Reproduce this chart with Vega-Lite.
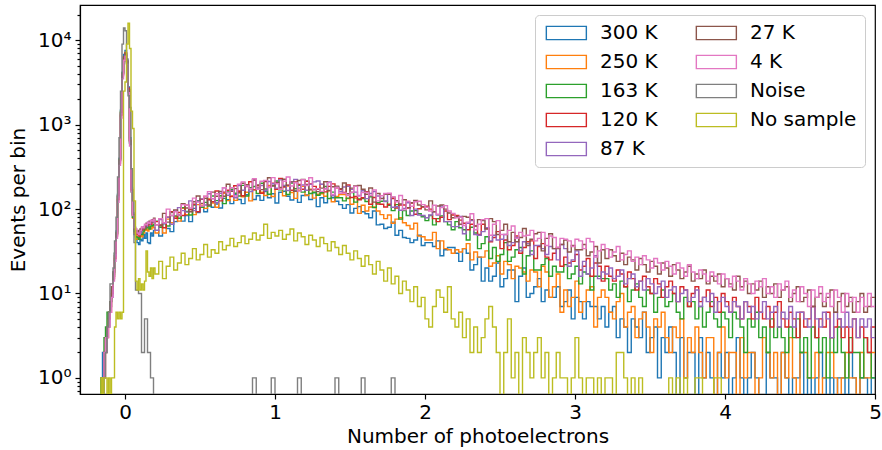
{
"$schema": "https://vega.github.io/schema/vega-lite/v6.json",
"width": 795, "height": 389,
"autosize": "none",
"padding": {"left": 80, "top": 5, "right": 7, "bottom": 56},
"background": "white",
"config": {
  "font": "DejaVu Sans",
  "view": {"stroke": "black", "strokeWidth": 1.2},
  "axis": {"labelFont": "DejaVu Sans", "titleFont": "DejaVu Sans", "labelFontSize": 20, "titleFontSize": 20, "titleFontWeight": "normal", "labelColor": "black", "titleColor": "black", "domainColor": "black", "tickColor": "black", "grid": false, "domainWidth": 1.2, "tickWidth": 1.2}
},
"data": {"values": [
{"x":-0.2,"a":0.1,"b":0.1,"c":0.1,"d":0.1,"e":0.1,"f":0.1,"g":0.1,"h":0.1,"i":0.1},
{"x":-0.19,"a":0.1,"b":0.1,"c":0.1,"d":0.1,"e":0.1,"f":0.1,"g":0.1,"h":0.1,"i":0.1},
{"x":-0.18,"a":0.1,"b":0.1,"c":0.1,"d":0.1,"e":0.1,"f":0.1,"g":0.1,"h":0.1,"i":0.1},
{"x":-0.17,"a":0.1,"b":0.1,"c":0.1,"d":0.1,"e":0.1,"f":0.1,"g":0.1,"h":0.1,"i":0.1},
{"x":-0.16,"a":1,"b":0.1,"c":1,"d":0.1,"e":0.1,"f":0.1,"g":0.1,"h":0.1,"i":1},
{"x":-0.15,"a":2,"b":1,"c":1,"d":1,"e":0.1,"f":1,"g":1,"h":0.1,"i":0.1},
{"x":-0.14,"a":2,"b":2,"c":3,"d":1,"e":2,"f":2,"g":2,"h":1,"i":1},
{"x":-0.13,"a":3,"b":2,"c":4,"d":3,"e":2,"f":3,"g":3,"h":2,"i":1},
{"x":-0.12,"a":4,"b":4,"c":6,"d":3,"e":4,"f":4,"g":3,"h":4,"i":0.1},
{"x":-0.11,"a":5,"b":6,"c":5,"d":5,"e":4,"f":6,"g":4,"h":6,"i":1},
{"x":-0.1,"a":8,"b":7,"c":8,"d":6,"e":7,"f":8,"g":6,"h":13,"i":0.1},
{"x":-0.09,"a":12,"b":10,"c":11,"d":10,"e":9,"f":12,"g":9,"h":13,"i":1},
{"x":-0.08,"a":18,"b":16,"c":17,"d":15,"e":16,"f":18,"g":14,"h":20,"i":1},
{"x":-0.07,"a":30,"b":28,"c":30,"d":26,"e":28,"f":30,"g":24,"h":42,"i":4},
{"x":-0.06,"a":55,"b":50,"c":52,"d":48,"e":50,"f":52,"g":45,"h":80,"i":6},
{"x":-0.05,"a":150,"b":140,"c":145,"d":130,"e":140,"f":145,"g":120,"h":240,"i":5},
{"x":-0.04,"a":400,"b":380,"c":390,"d":350,"e":370,"f":380,"g":330,"h":700,"i":6},
{"x":-0.03,"a":1500,"b":1400,"c":1450,"d":1300,"e":1350,"f":1400,"g":1200,"h":2500,"i":5},
{"x":-0.02,"a":4200,"b":4000,"c":4100,"d":3800,"e":3900,"f":4000,"g":3500,"h":9000,"i":6},
{"x":-0.01,"a":6800,"b":6400,"c":6200,"d":6000,"e":6200,"f":6400,"g":5800,"h":14000,"i":2500},
{"x":0,"a":7600,"b":7200,"c":6600,"d":7000,"e":6800,"f":7100,"g":6500,"h":13000,"i":3200},
{"x":0.01,"a":5800,"b":5600,"c":5300,"d":5600,"e":5400,"f":5600,"g":5200,"h":6000,"i":9000},
{"x":0.02,"a":2800,"b":2600,"c":2500,"d":2700,"e":2600,"f":2600,"g":2400,"h":2200,"i":16000},
{"x":0.03,"a":700,"b":650,"c":600,"d":650,"e":620,"f":640,"g":560,"h":1600,"i":8000},
{"x":0.04,"a":180,"b":170,"c":160,"d":170,"e":175,"f":170,"g":160,"h":300,"i":1450},
{"x":0.05,"a":80,"b":78,"c":80,"d":85,"e":90,"f":86,"g":84,"h":125,"i":900},
{"x":0.06,"a":50,"b":52,"c":54,"d":58,"e":62,"f":60,"g":60,"h":40,"i":125},
{"x":0.07,"a":44,"b":48,"c":47,"d":52,"e":56,"f":55,"g":58,"h":11,"i":14},
{"x":0.08,"a":40,"b":44,"c":46,"d":50,"e":54,"f":52,"g":52,"h":11,"i":11},
{"x":0.09,"a":38,"b":46,"c":44,"d":48,"e":50,"f":56,"g":50,"h":10,"i":15},
{"x":0.1,"a":44,"b":50,"c":52,"d":55,"e":52,"f":58,"g":56,"h":10,"i":11},
{"x":0.11,"a":42,"b":47,"c":50,"d":60,"e":58,"f":56,"g":62,"h":2,"i":13},
{"x":0.12,"a":50,"b":52,"c":55,"d":58,"e":60,"f":62,"g":60,"h":2,"i":11},
{"x":0.13,"a":45,"b":56,"c":58,"d":62,"e":64,"f":60,"g":66,"h":5,"i":14},
{"x":0.14,"a":52,"b":58,"c":60,"d":65,"e":62,"f":68,"g":65,"h":5,"i":32},
{"x":0.15,"a":40,"b":55,"c":62,"d":64,"e":70,"f":66,"g":70,"h":2,"i":18},
{"x":0.16,"a":39,"b":60,"c":58,"d":68,"e":66,"f":72,"g":68,"h":2,"i":16},
{"x":0.17,"a":52,"b":58,"c":63,"d":66,"e":72,"f":70,"g":74,"h":1,"i":20},
{"x":0.18,"a":48,"b":62,"c":64,"d":72,"e":70,"f":75,"g":72,"h":1,"i":15},
{"x":0.19,"a":56,"b":60,"c":66,"d":70,"e":74,"f":78,"g":76,"h":0.1,"i":20},
{"x":0.2,"a":56,"b":52,"c":72,"d":71,"e":56,"f":65,"g":65,"h":0.1,"i":17},
{"x":0.225,"a":48,"b":61,"c":61,"d":65,"e":75,"f":64,"g":77,"h":0.1,"i":24},
{"x":0.25,"a":67,"b":52,"c":68,"d":60,"e":68,"f":89,"g":69,"h":0.1,"i":15},
{"x":0.275,"a":59,"b":76,"c":63,"d":80,"e":80,"f":70,"g":100,"h":0.1,"i":21},
{"x":0.3,"a":54,"b":69,"c":84,"d":93,"e":66,"f":91,"g":84,"h":0.1,"i":27},
{"x":0.325,"a":71,"b":81,"c":83,"d":78,"e":95,"f":98,"g":93,"h":0.1,"i":19},
{"x":0.35,"a":86,"b":72,"c":78,"d":91,"e":104,"f":84,"g":85,"h":0.1,"i":23},
{"x":0.375,"a":72,"b":102,"c":104,"d":84,"e":96,"f":116,"g":113,"h":0.1,"i":30},
{"x":0.4,"a":84,"b":86,"c":94,"d":111,"e":92,"f":103,"g":111,"h":0.1,"i":22},
{"x":0.425,"a":71,"b":94,"c":85,"d":99,"e":125,"f":93,"g":103,"h":0.1,"i":26},
{"x":0.45,"a":102,"b":86,"c":112,"d":114,"e":96,"f":122,"g":135,"h":0.1,"i":34},
{"x":0.475,"a":91,"b":113,"c":126,"d":93,"e":124,"f":143,"g":121,"h":0.1,"i":25},
{"x":0.5,"a":106,"b":111,"c":105,"d":131,"e":132,"f":117,"g":109,"h":0.1,"i":29},
{"x":0.525,"a":93,"b":102,"c":120,"d":141,"e":112,"f":134,"g":142,"h":0.1,"i":38},
{"x":0.55,"a":130,"b":132,"c":109,"d":129,"e":152,"f":112,"g":161,"h":0.1,"i":27},
{"x":0.575,"a":105,"b":118,"c":143,"d":122,"e":133,"f":159,"g":132,"h":0.1,"i":33},
{"x":0.6,"a":115,"b":105,"c":126,"d":164,"e":119,"f":142,"g":152,"h":0.1,"i":30},
{"x":0.625,"a":103,"b":137,"c":144,"d":125,"e":154,"f":162,"g":136,"h":0.1,"i":41},
{"x":0.65,"a":134,"b":154,"c":116,"d":159,"e":179,"f":142,"g":179,"h":0.1,"i":33},
{"x":0.675,"a":129,"b":126,"c":160,"d":167,"e":146,"f":197,"g":156,"h":0.1,"i":37},
{"x":0.7,"a":116,"b":143,"c":172,"d":141,"e":165,"f":162,"g":179,"h":0.1,"i":45},
{"x":0.725,"a":149,"b":127,"c":154,"d":189,"e":136,"f":175,"g":143,"h":0.1,"i":36},
{"x":0.75,"a":130,"b":163,"c":143,"d":163,"e":190,"f":156,"g":197,"h":0.1,"i":40},
{"x":0.775,"a":116,"b":140,"c":191,"d":144,"e":167,"f":202,"g":210,"h":0.1,"i":48},
{"x":0.8,"a":148,"b":158,"c":143,"d":185,"e":189,"f":194,"g":188,"h":0.1,"i":39},
{"x":0.825,"a":162,"b":125,"c":179,"d":211,"e":161,"f":174,"g":174,"h":0.1,"i":44},
{"x":0.85,"a":130,"b":170,"c":185,"d":169,"e":221,"f":221,"g":229,"h":1,"i":52},
{"x":0.875,"a":144,"b":179,"c":153,"d":189,"e":178,"f":193,"g":171,"h":0.1,"i":43},
{"x":0.9,"a":127,"b":158,"c":202,"d":154,"e":190,"f":170,"g":214,"h":0.1,"i":49},
{"x":0.925,"a":161,"b":145,"c":173,"d":212,"e":166,"f":215,"g":219,"h":0.1,"i":66},
{"x":0.95,"a":136,"b":191,"c":150,"d":182,"e":212,"f":235,"g":180,"h":0.1,"i":45},
{"x":0.975,"a":152,"b":141,"c":190,"d":202,"e":200,"f":188,"g":236,"h":1,"i":53},
{"x":1.0,"a":118,"b":175,"c":215,"d":171,"e":177,"f":207,"g":200,"h":0.1,"i":48},
{"x":1.025,"a":158,"b":177,"c":169,"d":230,"e":222,"f":180,"g":172,"h":0.1,"i":56},
{"x":1.05,"a":163,"b":144,"c":186,"d":182,"e":191,"f":226,"g":214,"h":0.1,"i":44},
{"x":1.075,"a":142,"b":187,"c":149,"d":192,"e":166,"f":191,"g":240,"h":0.1,"i":50},
{"x":1.1,"a":128,"b":157,"c":204,"d":167,"e":209,"f":210,"g":188,"h":0.1,"i":58},
{"x":1.125,"a":164,"b":134,"c":174,"d":210,"e":225,"f":163,"g":205,"h":0.1,"i":42},
{"x":1.15,"a":120,"b":167,"c":191,"d":196,"e":177,"f":218,"g":164,"h":1,"i":52},
{"x":1.175,"a":145,"b":186,"c":159,"d":172,"e":193,"f":225,"g":223,"h":0.1,"i":47},
{"x":1.2,"a":147,"b":145,"c":214,"d":214,"e":167,"f":196,"g":190,"h":0.1,"i":38},
{"x":1.225,"a":130,"b":172,"c":153,"d":199,"e":196,"f":169,"g":235,"h":0.1,"i":49},
{"x":1.25,"a":156,"b":135,"c":158,"d":186,"e":210,"f":171,"g":169,"h":0.1,"i":43},
{"x":1.275,"a":107,"b":150,"c":146,"d":171,"e":215,"f":161,"g":175,"h":0.1,"i":36},
{"x":1.3,"a":136,"b":152,"c":156,"d":196,"e":197,"f":177,"g":162,"h":0.1,"i":46},
{"x":1.325,"a":119,"b":142,"c":185,"d":160,"e":175,"f":211,"g":173,"h":0.1,"i":39},
{"x":1.35,"a":134,"b":165,"c":133,"d":186,"e":209,"f":166,"g":206,"h":0.1,"i":32},
{"x":1.375,"a":136,"b":122,"c":159,"d":199,"e":144,"f":184,"g":149,"h":0.1,"i":41},
{"x":1.4,"a":124,"b":141,"c":136,"d":179,"e":182,"f":187,"g":180,"h":1,"i":35},
{"x":1.425,"a":113,"b":149,"c":136,"d":170,"e":161,"f":175,"g":154,"h":0.1,"i":29},
{"x":1.45,"a":102,"b":149,"c":125,"d":157,"e":183,"f":204,"g":155,"h":0.1,"i":37},
{"x":1.475,"a":113,"b":133,"c":135,"d":193,"e":186,"f":152,"g":145,"h":0.1,"i":30},
{"x":1.5,"a":90,"b":114,"c":157,"d":137,"e":171,"f":177,"g":158,"h":0.1,"i":25},
{"x":1.525,"a":102,"b":135,"c":121,"d":141,"e":159,"f":188,"g":186,"h":0.1,"i":32},
{"x":1.55,"a":107,"b":89,"c":132,"d":129,"e":145,"f":190,"g":143,"h":0.1,"i":26},
{"x":1.575,"a":93,"b":111,"c":133,"d":136,"e":165,"f":172,"g":157,"h":1,"i":21},
{"x":1.6,"a":88,"b":95,"c":123,"d":161,"e":133,"f":150,"g":157,"h":0.1,"i":28},
{"x":1.625,"a":79,"b":106,"c":140,"d":114,"e":153,"f":178,"g":145,"h":0.1,"i":22},
{"x":1.65,"a":95,"b":106,"c":104,"d":137,"e":161,"f":121,"g":168,"h":0.1,"i":17},
{"x":1.675,"a":65,"b":95,"c":119,"d":115,"e":143,"f":153,"g":125,"h":0.1,"i":24},
{"x":1.7,"a":66,"b":86,"c":124,"d":114,"e":135,"f":133,"g":144,"h":0.1,"i":19},
{"x":1.725,"a":59,"b":77,"c":124,"d":106,"e":123,"f":150,"g":153,"h":0.1,"i":14},
{"x":1.75,"a":61,"b":85,"c":111,"d":114,"e":150,"f":150,"g":154,"h":0.1,"i":20},
{"x":1.775,"a":70,"b":68,"c":96,"d":133,"e":105,"f":138,"g":139,"h":1,"i":13},
{"x":1.8,"a":49,"b":76,"c":113,"d":103,"e":107,"f":126,"g":122,"h":0.1,"i":16},
{"x":1.825,"a":56,"b":79,"c":76,"d":112,"e":97,"f":115,"g":145,"h":0.1,"i":10},
{"x":1.85,"a":46,"b":69,"c":96,"d":112,"e":102,"f":129,"g":98,"h":0.1,"i":14},
{"x":1.875,"a":45,"b":64,"c":84,"d":103,"e":119,"f":104,"g":124,"h":0.1,"i":11},
{"x":1.9,"a":40,"b":58,"c":95,"d":118,"e":84,"f":119,"g":108,"h":0.1,"i":8},
{"x":1.925,"a":43,"b":68,"c":96,"d":87,"e":100,"f":127,"g":122,"h":0.1,"i":12},
{"x":1.95,"a":49,"b":48,"c":88,"d":101,"e":85,"f":112,"g":124,"h":0.1,"i":7},
{"x":1.975,"a":37,"b":47,"c":81,"d":106,"e":84,"f":107,"g":113,"h":0.1,"i":9},
{"x":2.0,"a":40,"b":43,"c":73,"d":108,"e":79,"f":98,"g":105,"h":0.1,"i":5},
{"x":2.025,"a":40,"b":43,"c":84,"d":100,"e":85,"f":125,"g":95,"h":0.1,"i":4},
{"x":2.05,"a":36,"b":53,"c":65,"d":77,"e":93,"f":93,"g":111,"h":0.1,"i":7},
{"x":2.075,"a":42,"b":34,"c":77,"d":71,"e":85,"f":109,"g":87,"h":0.1,"i":11},
{"x":2.1,"a":28,"b":42,"c":83,"d":80,"e":109,"f":112,"g":104,"h":0.1,"i":9},
{"x":2.125,"a":33,"b":34,"c":71,"d":95,"e":71,"f":100,"g":110,"h":0.1,"i":6},
{"x":2.15,"a":35,"b":33,"c":65,"d":75,"e":71,"f":90,"g":95,"h":0.1,"i":12},
{"x":2.175,"a":35,"b":30,"c":57,"d":85,"e":62,"f":79,"g":89,"h":0.1,"i":5},
{"x":2.2,"a":30,"b":33,"c":71,"d":84,"e":62,"f":81,"g":79,"h":0.1,"i":4},
{"x":2.225,"a":24,"b":31,"c":60,"d":74,"e":82,"f":66,"g":80,"h":0.1,"i":6},
{"x":2.25,"a":34,"b":34,"c":57,"d":68,"e":51,"f":82,"g":64,"h":0.1,"i":3},
{"x":2.275,"a":30,"b":39,"c":43,"d":57,"e":68,"f":80,"g":70,"h":0.1,"i":5},
{"x":2.3,"a":19,"b":25,"c":61,"d":66,"e":73,"f":75,"g":88,"h":0.1,"i":2},
{"x":2.325,"a":22,"b":31,"c":52,"d":63,"e":50,"f":63,"g":57,"h":0.1,"i":4},
{"x":2.35,"a":27,"b":27,"c":34,"d":50,"e":49,"f":75,"g":66,"h":0.1,"i":2},
{"x":2.375,"a":14,"b":27,"c":39,"d":66,"e":54,"f":73,"g":75,"h":0.1,"i":3},
{"x":2.4,"a":20,"b":32,"c":47,"d":59,"e":60,"f":58,"g":77,"h":0.1,"i":5},
{"x":2.425,"a":14,"b":21,"c":26,"d":41,"e":42,"f":77,"g":49,"h":0.1,"i":7},
{"x":2.45,"a":16,"b":23,"c":35,"d":46,"e":49,"f":71,"g":66,"h":0.1,"i":4},
{"x":2.475,"a":23,"b":28,"c":24,"d":54,"e":43,"f":50,"g":73,"h":0.1,"i":2},
{"x":2.5,"a":12,"b":17,"c":29,"d":34,"e":44,"f":56,"g":50,"h":0.1,"i":0.1},
{"x":2.525,"a":15,"b":24,"c":40,"d":43,"e":50,"f":66,"g":50,"h":0.1,"i":2},
{"x":2.55,"a":19,"b":22,"c":24,"d":33,"e":37,"f":41,"g":56,"h":0.1,"i":5},
{"x":2.575,"a":19,"b":15,"c":27,"d":37,"e":40,"f":53,"g":63,"h":0.1,"i":1},
{"x":2.6,"a":8,"b":21,"c":33,"d":48,"e":46,"f":41,"g":45,"h":0.1,"i":2},
{"x":2.625,"a":16,"b":20,"c":35,"d":30,"e":32,"f":46,"g":53,"h":0.1,"i":0.1},
{"x":2.65,"a":20,"b":18,"c":17,"d":35,"e":41,"f":59,"g":48,"h":0.1,"i":3},
{"x":2.675,"a":9,"b":14,"c":28,"d":41,"e":39,"f":37,"g":49,"h":0.1,"i":2},
{"x":2.7,"a":10,"b":19,"c":32,"d":42,"e":29,"f":44,"g":56,"h":0.1,"i":1},
{"x":2.725,"a":12,"b":18,"c":19,"d":26,"e":37,"f":51,"g":42,"h":0.1,"i":2},
{"x":2.75,"a":15,"b":12,"c":19,"d":36,"e":37,"f":53,"g":45,"h":0.1,"i":3},
{"x":2.775,"a":8,"b":21,"c":22,"d":39,"e":34,"f":32,"g":53,"h":0.1,"i":1},
{"x":2.8,"a":11,"b":18,"c":26,"d":27,"e":29,"f":45,"g":37,"h":0.1,"i":2},
{"x":2.825,"a":9,"b":9,"c":16,"d":25,"e":36,"f":51,"g":48,"h":0.1,"i":0.1},
{"x":2.85,"a":9,"b":12,"c":21,"d":30,"e":34,"f":34,"g":46,"h":0.1,"i":1},
{"x":2.875,"a":12,"b":17,"c":18,"d":35,"e":25,"f":34,"g":35,"h":0.1,"i":2},
{"x":2.9,"a":7,"b":6,"c":18,"d":21,"e":38,"f":38,"g":45,"h":0.1,"i":1},
{"x":2.925,"a":8,"b":11,"c":22,"d":27,"e":34,"f":43,"g":44,"h":0.1,"i":1},
{"x":2.95,"a":11,"b":7,"c":15,"d":23,"e":21,"f":31,"g":42,"h":0.1,"i":0.1},
{"x":2.975,"a":5,"b":9,"c":17,"d":24,"e":25,"f":37,"g":36,"h":0.1,"i":1},
{"x":3.0,"a":9,"b":14,"c":21,"d":29,"e":32,"f":33,"g":44,"h":0.1,"i":3},
{"x":3.025,"a":8,"b":6,"c":13,"d":19,"e":16,"f":33,"g":42,"h":0.1,"i":1},
{"x":3.05,"a":5,"b":8,"c":18,"d":21,"e":24,"f":38,"g":34,"h":0.1,"i":0.1},
{"x":3.075,"a":8,"b":11,"c":17,"d":26,"e":17,"f":28,"g":45,"h":0.1,"i":1},
{"x":3.1,"a":7,"b":12,"c":11,"d":16,"e":20,"f":31,"g":41,"h":0.1,"i":1},
{"x":3.125,"a":7,"b":4,"c":16,"d":23,"e":28,"f":36,"g":27,"h":0.1,"i":0.1},
{"x":3.15,"a":5,"b":9,"c":16,"d":21,"e":15,"f":23,"g":32,"h":0.1,"i":1},
{"x":3.175,"a":7,"b":11,"c":15,"d":14,"e":18,"f":33,"g":38,"h":0.1,"i":0.1},
{"x":3.2,"a":4,"b":9,"c":15,"d":21,"e":17,"f":26,"g":34,"h":0.1,"i":1},
{"x":3.225,"a":6,"b":6,"c":11,"d":16,"e":20,"f":33,"g":27,"h":0.1,"i":1},
{"x":3.25,"a":7,"b":5,"c":13,"d":14,"e":15,"f":28,"g":31,"h":0.1,"i":0.1},
{"x":3.275,"a":3,"b":8,"c":9,"d":19,"e":16,"f":24,"g":36,"h":0.1,"i":2},
{"x":3.3,"a":5,"b":10,"c":14,"d":17,"e":19,"f":30,"g":25,"h":0.1,"i":2},
{"x":3.325,"a":4,"b":4,"c":12,"d":12,"e":13,"f":22,"g":29,"h":0.1,"i":1},
{"x":3.35,"a":2,"b":6,"c":8,"d":18,"e":15,"f":27,"g":32,"h":0.1,"i":0.1},
{"x":3.375,"a":5,"b":7,"c":11,"d":15,"e":17,"f":25,"g":24,"h":0.1,"i":1},
{"x":3.4,"a":4,"b":3,"c":13,"d":11,"e":12,"f":19,"g":27,"h":0.1,"i":0.1},
{"x":3.425,"a":3,"b":5,"c":9,"d":14,"e":14,"f":26,"g":22,"h":0.1,"i":1},
{"x":3.45,"a":6,"b":6,"c":7,"d":16,"e":11,"f":22,"g":28,"h":0.1,"i":0.1},
{"x":3.475,"a":2,"b":4,"c":11,"d":12,"e":15,"f":18,"g":25,"h":0.1,"i":0.1},
{"x":3.5,"a":3,"b":2,"c":10,"d":10,"e":13,"f":24,"g":20,"h":0.1,"i":0.1},
{"x":3.525,"a":4,"b":5,"c":6,"d":15,"e":10,"f":21,"g":26,"h":0.1,"i":0.1},
{"x":3.55,"a":1,"b":4,"c":9,"d":13,"e":12,"f":17,"g":23,"h":0.1,"i":0.1},
{"x":3.575,"a":3,"b":6,"c":11,"d":9,"e":14,"f":23,"g":19,"h":0.1,"i":0.1},
{"x":3.6,"a":2,"b":3,"c":7,"d":12,"e":9,"f":20,"g":24,"h":0.1,"i":0.1},
{"x":3.625,"a":4,"b":2,"c":8,"d":14,"e":11,"f":16,"g":21,"h":0.1,"i":1},
{"x":3.65,"a":2,"b":4,"c":10,"d":10,"e":12,"f":22,"g":17,"h":0.1,"i":0.1},
{"x":3.675,"a":0.1,"b":3,"c":6,"d":8,"e":8,"f":19,"g":23,"h":0.1,"i":1},
{"x":3.7,"a":3,"b":5,"c":5,"d":12,"e":10,"f":15,"g":20,"h":0.1,"i":0.1},
{"x":3.725,"a":1,"b":1,"c":9,"d":11,"e":11,"f":18,"g":16,"h":0.1,"i":1},
{"x":3.75,"a":2,"b":3,"c":7,"d":7,"e":8,"f":21,"g":22,"h":0.1,"i":0.1},
{"x":3.775,"a":2,"b":2,"c":8,"d":10,"e":9,"f":14,"g":18,"h":0.1,"i":0.1},
{"x":3.8,"a":0.1,"b":4,"c":5,"d":12,"e":11,"f":17,"g":15,"h":0.1,"i":1},
{"x":3.825,"a":3,"b":2,"c":7,"d":8,"e":7,"f":15,"g":19,"h":0.1,"i":1},
{"x":3.85,"a":1,"b":1,"c":4,"d":9,"e":9,"f":19,"g":17,"h":0.1,"i":0.1},
{"x":3.875,"a":2,"b":3,"c":6,"d":11,"e":8,"f":13,"g":14,"h":0.1,"i":0.1},
{"x":3.9,"a":1,"b":3,"c":8,"d":7,"e":10,"f":16,"g":18,"h":0.1,"i":0.1},
{"x":3.925,"a":0.1,"b":0.1,"c":5,"d":9,"e":6,"f":14,"g":16,"h":0.1,"i":1},
{"x":3.95,"a":2,"b":2,"c":4,"d":6,"e":8,"f":17,"g":13,"h":0.1,"i":1},
{"x":3.975,"a":1,"b":4,"c":6,"d":10,"e":9,"f":12,"g":17,"h":0.1,"i":0.1},
{"x":4.0,"a":2,"b":1,"c":5,"d":8,"e":7,"f":15,"g":15,"h":0.1,"i":0.1},
{"x":4.025,"a":0.1,"b":2,"c":3,"d":6,"e":6,"f":13,"g":12,"h":0.1,"i":0.1},
{"x":4.05,"a":1,"b":2,"c":6,"d":9,"e":8,"f":11,"g":16,"h":0.1,"i":0.1},
{"x":4.075,"a":3,"b":0.1,"c":5,"d":7,"e":7,"f":16,"g":14,"h":0.1,"i":0.1},
{"x":4.1,"a":1,"b":3,"c":4,"d":5,"e":5,"f":12,"g":11,"h":0.1,"i":0.1},
{"x":4.125,"a":0.1,"b":1,"c":2,"d":8,"e":8,"f":14,"g":15,"h":0.1,"i":0.1},
{"x":4.15,"a":1,"b":2,"c":5,"d":7,"e":6,"f":10,"g":13,"h":0.1,"i":0.1},
{"x":4.175,"a":2,"b":2,"c":4,"d":5,"e":7,"f":13,"g":10,"h":0.1,"i":0.1},
{"x":4.2,"a":1,"b":0.1,"c":6,"d":9,"e":5,"f":11,"g":14,"h":0.1,"i":0.1},
{"x":4.225,"a":0.1,"b":1,"c":3,"d":6,"e":6,"f":14,"g":12,"h":0.1,"i":0.1},
{"x":4.25,"a":0.1,"b":3,"c":4,"d":5,"e":8,"f":9,"g":15,"h":0.1,"i":0.1},
{"x":4.275,"a":2,"b":2,"c":2,"d":7,"e":5,"f":12,"g":10,"h":0.1,"i":0.1},
{"x":4.3,"a":1,"b":1,"c":5,"d":4,"e":6,"f":10,"g":12,"h":0.1,"i":0.1},
{"x":4.325,"a":1,"b":2,"c":3,"d":6,"e":7,"f":13,"g":9,"h":0.1,"i":0.1},
{"x":4.35,"a":0.1,"b":0.1,"c":4,"d":8,"e":4,"f":9,"g":13,"h":0.1,"i":0.1},
{"x":4.375,"a":2,"b":2,"c":3,"d":5,"e":6,"f":11,"g":11,"h":0.1,"i":0.1},
{"x":4.4,"a":1,"b":1,"c":2,"d":4,"e":5,"f":12,"g":14,"h":0.1,"i":0.1},
{"x":4.425,"a":0.1,"b":3,"c":4,"d":6,"e":7,"f":8,"g":9,"h":0.1,"i":0.1},
{"x":4.45,"a":1,"b":1,"c":3,"d":5,"e":4,"f":10,"g":11,"h":0.1,"i":0.1},
{"x":4.475,"a":1,"b":0.1,"c":5,"d":3,"e":6,"f":12,"g":8,"h":0.1,"i":0.1},
{"x":4.5,"a":2,"b":2,"c":2,"d":6,"e":6,"f":8,"g":12,"h":0.1,"i":0.1},
{"x":4.525,"a":0.1,"b":2,"c":3,"d":4,"e":5,"f":9,"g":10,"h":0.1,"i":0.1},
{"x":4.55,"a":1,"b":1,"c":1,"d":5,"e":4,"f":11,"g":7,"h":0.1,"i":0.1},
{"x":4.575,"a":0.1,"b":1,"c":4,"d":7,"e":7,"f":7,"g":11,"h":0.1,"i":0.1},
{"x":4.6,"a":1,"b":2,"c":3,"d":3,"e":5,"f":9,"g":9,"h":0.1,"i":0.1},
{"x":4.625,"a":2,"b":0.1,"c":2,"d":5,"e":4,"f":10,"g":12,"h":0.1,"i":0.1},
{"x":4.65,"a":1,"b":1,"c":3,"d":4,"e":6,"f":7,"g":8,"h":0.1,"i":0.1},
{"x":4.675,"a":0.1,"b":2,"c":1,"d":6,"e":5,"f":9,"g":10,"h":0.1,"i":0.1},
{"x":4.7,"a":1,"b":2,"c":3,"d":3,"e":3,"f":11,"g":7,"h":0.1,"i":0.1},
{"x":4.725,"a":0.1,"b":1,"c":2,"d":4,"e":6,"f":6,"g":11,"h":0.1,"i":0.1},
{"x":4.75,"a":1,"b":0.1,"c":4,"d":5,"e":5,"f":8,"g":9,"h":0.1,"i":0.1},
{"x":4.775,"a":1,"b":1,"c":2,"d":3,"e":4,"f":10,"g":6,"h":0.1,"i":0.1},
{"x":4.8,"a":0.1,"b":2,"c":1,"d":4,"e":6,"f":7,"g":10,"h":0.1,"i":0.1},
{"x":4.825,"a":2,"b":1,"c":3,"d":2,"e":4,"f":9,"g":8,"h":0.1,"i":0.1},
{"x":4.85,"a":1,"b":1,"c":2,"d":5,"e":5,"f":6,"g":9,"h":0.1,"i":0.1},
{"x":4.875,"a":0.1,"b":0.1,"c":2,"d":3,"e":3,"f":8,"g":6,"h":0.1,"i":0.1},
{"x":4.9,"a":1,"b":2,"c":1,"d":4,"e":5,"f":10,"g":9,"h":0.1,"i":0.1},
{"x":4.925,"a":1,"b":1,"c":3,"d":3,"e":4,"f":6,"g":7,"h":0.1,"i":0.1},
{"x":4.95,"a":0.1,"b":1,"c":2,"d":2,"e":5,"f":7,"g":10,"h":0.1,"i":0.1},
{"x":4.975,"a":1,"b":2,"c":1,"d":4,"e":3,"f":9,"g":7,"h":0.1,"i":0.1},
{"x":5.0,"a":1,"b":2,"c":1,"d":4,"e":3,"f":9,"g":7,"h":0.1,"i":0.1}
]},
"transform": [{"fold": ["a","b","c","d","e","f","g","h","i"], "as": ["s","y"]}],
"mark": {"type": "line", "interpolate": "step-after", "clip": true, "strokeWidth": 1.4},
"encoding": {
  "x": {"field": "x", "type": "quantitative",
        "scale": {"domain": [-0.3, 5], "nice": false, "zero": false},
        "axis": {"values": [0,1,2,3,4,5], "format": "d", "title": "Number of photoelectrons", "tickSize": 5, "labelPadding": 3, "titlePadding": 4, "labelFlush": false, "labelOverlap": false}},
  "y": {"field": "y", "type": "quantitative",
        "scale": {"type": "log", "domain": [0.644, 26200], "nice": false},
        "axis": {"values": [0.7,0.8,0.9,1,2,3,4,5,6,7,8,9,10,20,30,40,50,60,70,80,90,100,200,300,400,500,600,700,800,900,1000,2000,3000,4000,5000,6000,7000,8000,9000,10000,20000],
                 "labelExpr": "datum.value == 1 ? '10⁰' : datum.value == 10 ? '10¹' : datum.value == 100 ? '10²' : datum.value == 1000 ? '10³' : datum.value == 10000 ? '10⁴' : ''",
                 "tickSize": {"condition": {"test": "datum.value == 1 || datum.value == 10 || datum.value == 100 || datum.value == 1000 || datum.value == 10000", "value": 5}, "value": 3},
                 "labelPadding": 4, "labelOverlap": false, "labelBound": false, "title": "Events per bin", "titlePadding": 9}},
  "color": {"field": "s", "type": "nominal",
            "scale": {"domain": ["a","b","c","d","e","f","g","h","i"],
                      "range": ["#1f77b4","#ff7f0e","#2ca02c","#d62728","#9467bd","#8c564b","#e377c2","#7f7f7f","#bcbd22"]},
            "legend": {"orient": "none", "legendX": 455, "legendY": 10, "columns": 2, "title": null,
                       "labelExpr": "['300 K','250 K','163 K','120 K','87 K','27 K','4 K','Noise','No sample'][indexof(['a','b','c','d','e','f','g','h','i'], datum.value)]",
                       "symbolType": "M-1,-1H5V1H-1Z", "symbolSize": 178, "symbolStrokeWidth": 1.4, "symbolFillColor": "transparent",
                       "labelFontSize": 20, "labelFont": "DejaVu Sans", "labelColor": "black", "labelOffset": 37,
                       "rowPadding": 9, "columnPadding": 35, "padding": 8,
                       "fillColor": "rgba(255,255,255,0.8)", "strokeColor": "#cccccc", "cornerRadius": 4}}
}
}
